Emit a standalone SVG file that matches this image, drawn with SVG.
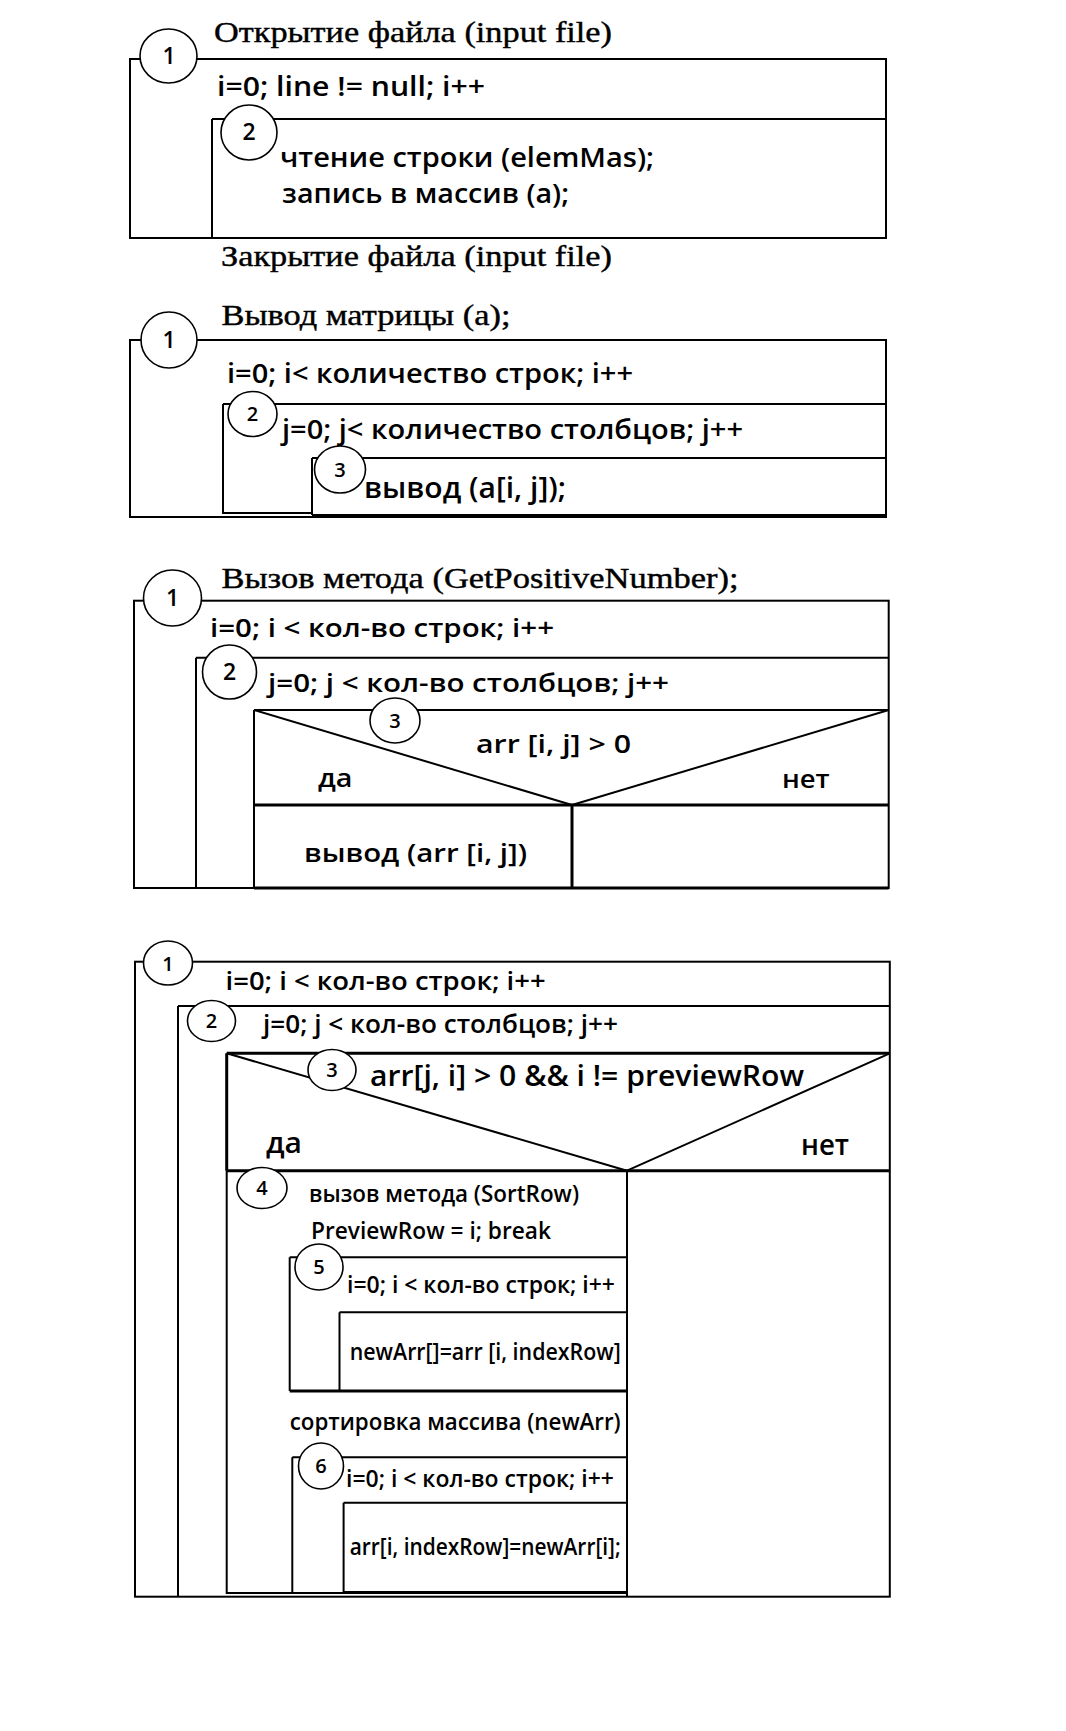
<svg xmlns="http://www.w3.org/2000/svg" width="1066" height="1731" viewBox="0 0 1066 1731">
<style>
.ln{stroke:#000;stroke-width:2;fill:none}
.tk{stroke:#000;stroke-width:3;fill:none}
.c{fill:#fff;stroke:#000;stroke-width:1.6}
.sf{font-family:"Liberation Serif","Times New Roman",serif;font-size:29px;fill:#000;stroke:#000;stroke-width:0.4}
.ss{font-family:"Open Sans",Lato,"Liberation Sans",sans-serif;font-weight:600;fill:#000}
.n{font-family:"Open Sans",Lato,"Liberation Sans",sans-serif;font-weight:600;fill:#000;text-anchor:middle}
</style>
<rect width="1066" height="1731" fill="#fff"/>
<g id="connectors"></g>

<g id="block1">
<rect class="ln" x="130" y="59" width="756" height="179"/>
<path class="ln" d="M212 119H886M212 119V238"/>
<text class="sf" x="214" y="42" textLength="398" lengthAdjust="spacingAndGlyphs">Открытие файла (input file)</text>
<text class="ss" font-size="27" x="217" y="96" textLength="268" lengthAdjust="spacingAndGlyphs">i=0; line != null; i++</text>
<text class="ss" font-size="27" x="280" y="167" textLength="374" lengthAdjust="spacingAndGlyphs">чтение строки (elemMas);</text>
<text class="ss" font-size="27" x="282" y="203" textLength="287" lengthAdjust="spacingAndGlyphs">запись в массив (а);</text>
<text class="sf" x="221" y="266" textLength="391" lengthAdjust="spacingAndGlyphs">Закрытие файла (input file)</text>
<ellipse class="c" cx="168.5" cy="56" rx="28.5" ry="27"/>
<text class="n" x="169" y="64" font-size="23">1</text>
<ellipse class="c" cx="249" cy="132.5" rx="28" ry="27.5"/>
<text class="n" x="249" y="140" font-size="23">2</text>
</g>

<g id="block2">
<rect class="ln" x="130" y="340" width="756" height="177"/>
<path class="ln" d="M223 404H886M223 404V513H313"/>
<path class="ln" d="M312 458H886M312 458V515"/>
<path class="tk" d="M312 515.5H886"/>
<text class="sf" x="221.5" y="325" textLength="289" lengthAdjust="spacingAndGlyphs">Вывод матрицы (а);</text>
<text class="ss" font-size="27" x="227" y="383" textLength="406" lengthAdjust="spacingAndGlyphs">i=0; i&lt; количество строк; i++</text>
<text class="ss" font-size="27" x="282" y="439" textLength="461" lengthAdjust="spacingAndGlyphs">j=0; j&lt; количество столбцов; j++</text>
<text class="ss" font-size="28" x="364" y="498" textLength="202" lengthAdjust="spacingAndGlyphs">вывод (а[i, j]);</text>
<ellipse class="c" cx="169" cy="340" rx="28" ry="28"/>
<text class="n" x="169" y="348" font-size="23">1</text>
<ellipse class="c" cx="252.5" cy="414" rx="24.5" ry="22.5"/>
<text class="n" x="252.5" y="421" font-size="20">2</text>
<ellipse class="c" cx="340" cy="469.5" rx="25.5" ry="23.5"/>
<text class="n" x="340" y="477" font-size="20">3</text>
</g>

<g id="block3">
<rect class="ln" x="134" y="600.7" width="754.7" height="287.3"/>
<path class="ln" d="M196 657.7H888.7M196 657.7V888"/>
<path class="ln" d="M254 710H888.7M254 710V888M254 710L572 805M888.7 710L572 805"/>
<path class="tk" d="M254 805H888.7M572 805V888M254 888H888.7"/>
<text class="sf" x="221.5" y="588" textLength="517" lengthAdjust="spacingAndGlyphs">Вызов метода (GetPositiveNumber);</text>
<text class="ss" font-size="26" x="210" y="637" textLength="344" lengthAdjust="spacingAndGlyphs">i=0; i &lt; кол-во строк; i++</text>
<text class="ss" font-size="26" x="268" y="691.5" textLength="401" lengthAdjust="spacingAndGlyphs">j=0; j &lt; кол-во столбцов; j++</text>
<text class="ss" font-size="26" x="476" y="753" textLength="155" lengthAdjust="spacingAndGlyphs">arr [i, j] &gt; 0</text>
<text class="ss" font-size="26" x="318" y="787" textLength="34.5" lengthAdjust="spacingAndGlyphs">да</text>
<text class="ss" font-size="26" x="782" y="788" textLength="47.7" lengthAdjust="spacingAndGlyphs">нет</text>
<text class="ss" font-size="26" x="304" y="862" textLength="223" lengthAdjust="spacingAndGlyphs">вывод (arr [i, j])</text>
<ellipse class="c" cx="172.5" cy="598" rx="29" ry="28"/>
<text class="n" x="172.5" y="606" font-size="23">1</text>
<ellipse class="c" cx="229.5" cy="672" rx="27" ry="27"/>
<text class="n" x="229.5" y="680" font-size="23">2</text>
<ellipse class="c" cx="395" cy="720.5" rx="25" ry="22.5"/>
<text class="n" x="395" y="728" font-size="20">3</text>
</g>

<g id="block4">
<rect class="ln" x="135" y="961.7" width="754.8" height="635"/>
<path class="ln" d="M178 1006H889.8M178 1006V1596.7"/>
<path class="tk" d="M226.7 1053.3H889.8M226.7 1053.3V1170.7"/>
<path class="ln" d="M226.7 1170.7V1593H627M226.7 1053.3L627 1170.7M889.8 1053.3L627 1170.7M627 1170.7V1596.7"/>
<path class="tk" d="M226.7 1170.7H889.8"/>
<path class="ln" d="M289.7 1257.3H627M289.7 1257.3V1391M339.5 1312.3H627M339.5 1312.3V1391"/>
<path class="tk" d="M289.7 1391H627"/>
<path class="ln" d="M292.3 1457.3H627M292.3 1457.3V1593M343.6 1502.7H627M343.6 1502.7V1593"/>
<path class="tk" d="M343.6 1592.5H627"/>
<text class="ss" font-size="26" x="225.6" y="990" textLength="320" lengthAdjust="spacingAndGlyphs">i=0; i &lt; кол-во строк; i++</text>
<text class="ss" font-size="26" x="263" y="1033" textLength="355" lengthAdjust="spacingAndGlyphs">j=0; j &lt; кол-во столбцов; j++</text>
<text class="ss" font-size="29" x="370" y="1086" textLength="434" lengthAdjust="spacingAndGlyphs">arr[j, i] &gt; 0 &amp;&amp; i != previewRow</text>
<text class="ss" font-size="28" x="266" y="1153" textLength="36" lengthAdjust="spacingAndGlyphs">да</text>
<text class="ss" font-size="28" x="801" y="1155" textLength="48" lengthAdjust="spacingAndGlyphs">нет</text>
<text class="ss" font-size="23" x="309" y="1201.5" textLength="270" lengthAdjust="spacingAndGlyphs">вызов метода (SortRow)</text>
<text class="ss" font-size="23" x="311" y="1239" textLength="240" lengthAdjust="spacingAndGlyphs">PreviewRow = i; break</text>
<text class="ss" font-size="23" x="347" y="1292.5" textLength="268" lengthAdjust="spacingAndGlyphs">i=0; i &lt; кол-во строк; i++</text>
<text class="ss" font-size="23" x="349.7" y="1360" textLength="271" lengthAdjust="spacingAndGlyphs">newArr[]=arr [i, indexRow]</text>
<text class="ss" font-size="23" x="289.7" y="1430" textLength="331" lengthAdjust="spacingAndGlyphs">сортировка массива (newArr)</text>
<text class="ss" font-size="23" x="346" y="1486.5" textLength="268" lengthAdjust="spacingAndGlyphs">i=0; i &lt; кол-во строк; i++</text>
<text class="ss" font-size="23" x="349.7" y="1555" textLength="271" lengthAdjust="spacingAndGlyphs">arr[i, indexRow]=newArr[i];</text>
<ellipse class="c" cx="168" cy="963" rx="24.5" ry="22"/>
<text class="n" x="168" y="970.5" font-size="20">1</text>
<ellipse class="c" cx="211.5" cy="1021" rx="24" ry="20.5"/>
<text class="n" x="211.5" y="1028" font-size="20">2</text>
<ellipse class="c" cx="332" cy="1070" rx="24" ry="20.5"/>
<text class="n" x="332" y="1077" font-size="20">3</text>
<ellipse class="c" cx="262" cy="1188" rx="25" ry="20.5"/>
<text class="n" x="262" y="1195" font-size="20">4</text>
<ellipse class="c" cx="319" cy="1267" rx="24" ry="23"/>
<text class="n" x="319" y="1274" font-size="20">5</text>
<ellipse class="c" cx="321" cy="1466" rx="22.5" ry="23"/>
<text class="n" x="321" y="1473" font-size="20">6</text>
</g>
</svg>
